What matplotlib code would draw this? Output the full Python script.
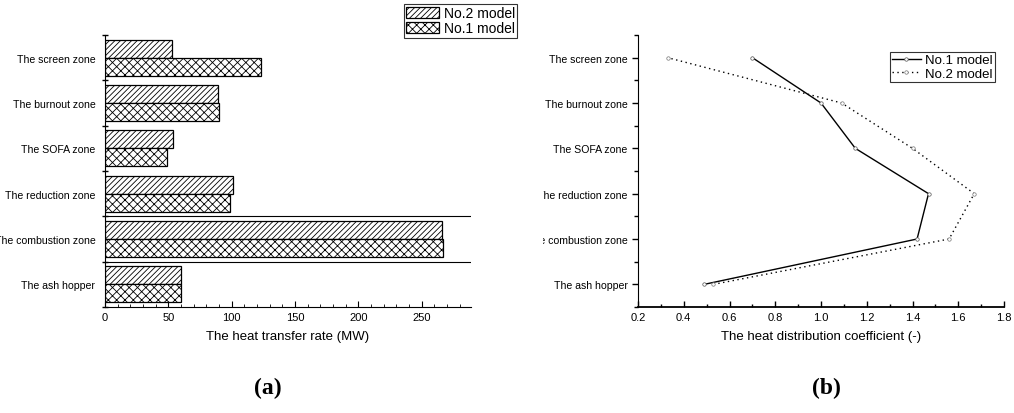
import matplotlib
matplotlib.use("Agg")
import matplotlib.pyplot as plt
import numpy as np
from matplotlib.patches import Rectangle
from matplotlib.ticker import MultipleLocator

plt.rcParams['font.family'] = ['Liberation Sans', 'DejaVu Sans']
plt.rcParams['hatch.linewidth'] = 0.6

categories = ["The ash hopper", "The combustion zone", "The reduction zone",
              "The SOFA zone", "The burnout zone", "The screen zone"]
rate_no1 = [60, 267, 99, 49, 90, 123]
rate_no2 = [60, 266, 101, 54, 89, 53]
coef_no1 = [0.49, 1.42, 1.47, 1.15, 1.00, 0.70]
coef_no2 = [0.53, 1.56, 1.67, 1.40, 1.09, 0.33]

fig = plt.figure(figsize=(10.14, 4.14), dpi=100)
ax1 = fig.add_axes([105/1014, 1-308/414, 366/1014, 272/414])
ax2 = fig.add_axes([638/1014, 1-308/414, 366/1014, 272/414])

y = np.arange(len(categories))
h = 0.4
b2 = ax1.barh(y + h/2, rate_no2, height=h, color='white', edgecolor='black',
              hatch='//////', linewidth=0.9, label='No.2 model')
b1 = ax1.barh(y - h/2, rate_no1, height=h, color='white', edgecolor='black',
              hatch='xxxx', linewidth=0.9, label='No.1 model')
ax1.axhline(0.5, color='black', lw=0.8)
ax1.axhline(1.5, color='black', lw=0.8)
ax1.set_xlim(0, 289)
ax1.set_ylim(-0.5, 5.5)
ax1.set_yticks(y)
ax1.set_yticklabels(categories, fontsize=7.6)
ax1.tick_params(axis='y', which='major', length=0, pad=7)
ax1.set_yticks(np.arange(-0.5, 5.6, 1), minor=True)
ax1.tick_params(axis='y', which='minor', length=5, direction='inout', width=1)
ax1.xaxis.set_major_locator(MultipleLocator(50))
ax1.xaxis.set_minor_locator(MultipleLocator(10))
ax1.tick_params(axis='x', which='major', direction='in', length=4, labelsize=8)
ax1.tick_params(axis='x', which='minor', direction='in', length=2)
for s in ['top', 'right']:
    ax1.spines[s].set_visible(False)
ax1.set_xlabel('The heat transfer rate (MW)', fontsize=9.5, labelpad=6)
leg1 = fig.legend(handles=[b2, b1], loc='upper left', bbox_to_anchor=(404/1014, 1-5/414),
                  fontsize=10, frameon=True, fancybox=False, edgecolor='black',
                  handlelength=2.4, handleheight=0.9, borderpad=0.15, labelspacing=0.1,
                  handletextpad=0.3, borderaxespad=0)
leg1.get_frame().set_linewidth(0.8)

ax2.plot(coef_no1, y, color='black', lw=1.0, ls='-', marker='o', ms=2.5,
         mfc='white', mec='#555555', mew=0.5, label='No.1 model')
ax2.plot(coef_no2, y, color='black', lw=1.0, ls=(0, (1, 2.5)), marker='o', ms=2.5,
         mfc='white', mec='#777777', mew=0.5, label='No.2 model')
ax2.set_xlim(0.2, 1.8)
ax2.set_ylim(-0.5, 5.5)
ax2.set_yticks(y)
ax2.set_yticklabels(categories, fontsize=7.6)
ax2.set_yticks(np.arange(-0.5, 5.6, 1), minor=True)
ax2.tick_params(axis='y', which='major', length=4, direction='out', width=1)
ax2.tick_params(axis='y', which='minor', length=3, direction='out', width=1)
ax2.xaxis.set_major_locator(MultipleLocator(0.2))
ax2.xaxis.set_minor_locator(MultipleLocator(0.1))
ax2.tick_params(axis='x', which='major', direction='in', length=4, width=1, labelsize=8)
ax2.tick_params(axis='x', which='minor', direction='in', length=2, width=1)
ax2.xaxis.set_major_formatter(matplotlib.ticker.FormatStrFormatter('%.1f'))
for s in ['top', 'right']:
    ax2.spines[s].set_visible(False)
ax2.spines['bottom'].set_linewidth(1.3)
ax2.set_xlabel('The heat distribution coefficient (-)', fontsize=9.5, labelpad=6)
leg2 = ax2.legend(loc='upper left', bbox_to_anchor=((890-638)/366, (308-53)/272),
                  fontsize=9.5, frameon=True, fancybox=False, edgecolor='black',
                  handlelength=2.2, borderpad=0.15, labelspacing=0.1,
                  handletextpad=0.3, borderaxespad=0)
leg2.get_frame().set_linewidth(0.8)

# clip the long labels of the right panel as in the reference
fig.patches.append(Rectangle((522/1014, 150/414), (543-522)/1014, 170/414,
                             transform=fig.transFigure, facecolor='white',
                             edgecolor='none', zorder=10))

fig.text(268/1014, 1-388/414, '(a)', fontsize=17, fontweight='bold',
         family='Liberation Serif', ha='center', va='center')
fig.text(826/1014, 1-388/414, '(b)', fontsize=17, fontweight='bold',
         family='Liberation Serif', ha='center', va='center')

fig.savefig('out.png', dpi=100)
